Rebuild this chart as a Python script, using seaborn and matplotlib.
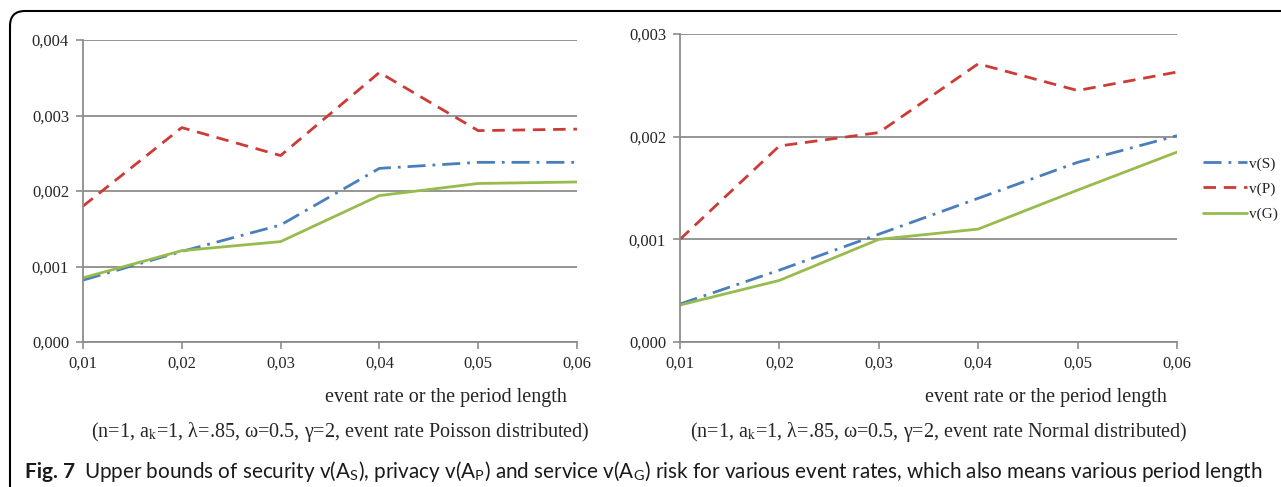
import matplotlib.pyplot as plt
import pandas as pd
import seaborn as sns
from matplotlib.patches import FancyBboxPatch
from matplotlib.transforms import IdentityTransform

rates = [0.01, 0.02, 0.03, 0.04, 0.05, 0.06]
rate_labels = ["0,01", "0,02", "0,03", "0,04", "0,05", "0,06"]

# Poisson distributed event rate
pois_s = [0.00082, 0.00120, 0.00155, 0.00230, 0.00238, 0.00238]
pois_p = [0.00180, 0.00284, 0.00247, 0.00357, 0.00280, 0.00282]
pois_g = [0.00085, 0.00121, 0.00133, 0.00194, 0.00210, 0.00212]
pois_yticks = [0.0, 0.001, 0.002, 0.003, 0.004]
pois_ylabels = ["0,000", "0,001", "0,002", "0,003", "0,004"]

# Normal distributed event rate
norm_s = [0.00037, 0.00070, 0.00105, 0.00140, 0.00175, 0.00201]
norm_p = [0.00100, 0.00191, 0.00204, 0.00271, 0.00245, 0.00263]
norm_g = [0.00036, 0.00060, 0.00100, 0.00110, 0.00148, 0.00185]
norm_yticks = [0.0, 0.001, 0.002, 0.003]
norm_ylabels = ["0,000", "0,001", "0,002", "0,003"]

series = ["v(S)", "v(P)", "v(G)"]
colors = {"v(S)": "#4a7ebb", "v(P)": "#cc3b36", "v(G)": "#98bb4e"}
dashes = {"v(S)": (6.5, 2.5, 1, 2.5), "v(P)": (4.5, 2.8), "v(G)": ""}

sns.set_style("white")
plt.rcParams["font.family"] = ["Liberation Serif", "DejaVu Serif"]
plt.rcParams["mathtext.fontset"] = "stix"


def long_df(s, p, g):
    rows = []
    for name, vals in zip(series, [s, p, g]):
        for x, v in zip(rates, vals):
            rows.append({"rate": x, "value": v, "series": name})
    return pd.DataFrame(rows)


fig = plt.figure(figsize=(12.81, 4.87), dpi=100)
ax1 = fig.add_axes([0.0648, 0.2977, 0.3856, 0.6201])
ax2 = fig.add_axes([0.5308, 0.2977, 0.3880, 0.6324])

panels = [
    (ax1, long_df(pois_s, pois_p, pois_g), pois_yticks, pois_ylabels, "Poisson"),
    (ax2, long_df(norm_s, norm_p, norm_g), norm_yticks, norm_ylabels, "Normal"),
]

for ax, df, yt, yl, dist in panels:
    sns.lineplot(data=df, x="rate", y="value", hue="series", style="series",
                 palette=colors, dashes=dashes, linewidth=2.0, ax=ax,
                 legend=(ax is ax2))
    ax.set_xlim(0.01, 0.06)
    ax.set_ylim(yt[0], yt[-1])
    ax.set_xticks(rates)
    ax.set_xticklabels(rate_labels, fontsize=12)
    ax.set_yticks(yt)
    ax.set_yticklabels(yl, fontsize=12)
    ax.yaxis.grid(True, color="#8c8c8c", linewidth=1.3)
    ax.set_axisbelow(True)
    for side in ["top", "right"]:
        ax.spines[side].set_visible(False)
    for side in ["left", "bottom"]:
        ax.spines[side].set_color("#8c8c8c")
        ax.spines[side].set_linewidth(1.3)
    ax.tick_params(axis="both", direction="out", length=5, width=1.2,
                   color="#8c8c8c", left=True, bottom=True, pad=5)
    ax.set_xlabel("")
    ax.set_ylabel("")
    ax.annotate("event rate or the period length", xy=(1.0, 0.0), xycoords="axes fraction",
                xytext=(-10, -55), textcoords="offset pixels",
                ha="right", va="center", fontsize=14.5)
    ax.annotate(r"(n=1, a$_{\rm k}$=1, λ=.85, ω=0.5, γ=2, event rate " + dist + " distributed)",
                xy=(0.52, 0.0), xycoords="axes fraction",
                xytext=(0, -90), textcoords="offset pixels",
                ha="center", va="center", fontsize=14.5)

handles, labels = ax2.get_legend_handles_labels()
ax2.get_legend().remove()
fig.legend(handles, labels, loc="center left", bbox_to_anchor=(1203 / 1281, 1 - 189 / 487),
           frameon=False, fontsize=11, handlelength=2.9, handletextpad=0.1,
           labelspacing=0.75, borderpad=0, borderaxespad=0)

fig.text(0.0195, 0.031, "Fig. 7", fontsize=15, fontweight="bold",
         family="Lato", ha="left", va="center", color="#1a1a1a")
fig.text(0.0655, 0.031,
         r"Upper bounds of security v(A$_\mathregular{S}$), privacy v(A$_\mathregular{P}$) "
         r"and service v(A$_\mathregular{G}$) risk for various event rates, which also means "
         "various period length",
         fontsize=14.9, family="Lato", ha="left", va="center", color="#1a1a1a")

border = FancyBboxPatch((10, -30), 1400, 506, transform=IdentityTransform(),
                        boxstyle="round,pad=0,rounding_size=15",
                        fill=False, edgecolor="black", linewidth=1.5)
fig.patches.append(border)

fig.savefig("out.png", dpi=100)
